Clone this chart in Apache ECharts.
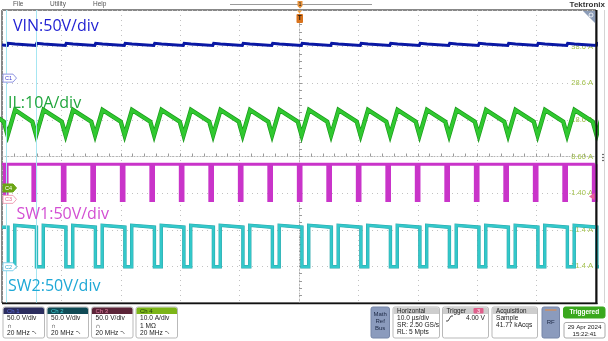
<!DOCTYPE html>
<html>
<head>
<meta charset="utf-8">
<title>Switching waveforms</title>
<script src="https://cdn.jsdelivr.net/npm/echarts/dist/echarts.min.js"></script>
<style>
  html, body { margin: 0; padding: 0; background: #fff; }
  #scope { width: 608px; height: 341px; }
</style>
</head>
<body>
<div id="scope"></div>
<script>
// Time base: 10 µs/div, trigger in the centre of the record
const timeRangeUs = [-50, 50];
// SW1 falling-edge time of every switching cycle (µs)
const sw1FallUs = [-49.6, -44.8, -39.84, -34.88, -29.91, -24.94, -19.98, -15.01, -10.04, -5.08,
                   -0.11, 4.85, 9.82, 14.79, 19.75, 24.72, 29.69, 34.65, 39.62, 44.58, 49.55];
// SW1 node: high / low level (V) and low time (µs)
const sw1LevelsV = [48, -1.5];
const sw1LowUs = 0.45;
// SW2 node: high / low / overshoot (V); fall and rise after SW1 falls (µs)
const sw2LevelsV = [54, 0, 56.5];
const sw2EdgeUs = [0.6, 1.75];
// Inductor current: knee / valley / peak (A) and where they sit after SW1 falls (µs)
const ilLevelsA = [18.1, 14.4, 21.3];
const ilEdgeUs = [-0.1, 0.55, 1.8];
// Input voltage: base / bump top / bump tail / recovery (V) and offsets (µs)
const vinLevelsV = [44.6, 47.5, 46.5, 45.3];
const vinEdgeUs = [0.5, 0.65, 1.8, 2.1];
// Channel 4 read-outs on the right-hand graticule lines
const ampLabels = ['38.6 A', '28.6 A', '18.6 A', '8.60 A', '-1.40 A', '-11.4 A', '-21.4 A'];
// Cursor positions (µs)
const cursorUs = [-49.33, -44.28];

// vertical scale and ground position of each channel, in graticule divisions
const channels = {
  vin: { perDiv: 50, zeroDiv: 2.14 },
  il:  { perDiv: 10, zeroDiv: -0.86 },
  sw1: { perDiv: 50, zeroDiv: -1.17 },
  sw2: { perDiv: 50, zeroDiv: -3.01 }
};
const toDiv = (ch, v) => ch.zeroDiv + v / ch.perDiv;
const period = sw1FallUs[1] - sw1FallUs[0];

function sw1Trace() {
  const [hi, lo] = sw1LevelsV, c = channels.sw1;
  const p = [[timeRangeUs[0], toDiv(c, hi)]];
  sw1FallUs.forEach(f => {
    p.push([f, toDiv(c, hi)], [f, toDiv(c, lo)], [f + sw1LowUs, toDiv(c, lo)], [f + sw1LowUs, toDiv(c, hi)]);
  });
  p.push([timeRangeUs[1], toDiv(c, hi)]);
  return p;
}
function sw2Trace() {
  const [hi, lo, over] = sw2LevelsV, c = channels.sw2;
  const p = [[timeRangeUs[0], toDiv(c, hi)]];
  sw1FallUs.forEach(f => {
    const a = f + sw2EdgeUs[0], b = f + sw2EdgeUs[1];
    p.push([a, toDiv(c, hi)], [a, toDiv(c, lo)], [b, toDiv(c, lo)], [b, toDiv(c, over)], [b + 0.3, toDiv(c, hi)]);
  });
  p.push([timeRangeUs[1] + 1, toDiv(c, hi)]);
  return p;
}
function ilTrace() {
  const [knee, valley, peak] = ilLevelsA, c = channels.il;
  const p = [[sw1FallUs[0] - period + ilEdgeUs[2], toDiv(c, peak)]];
  sw1FallUs.forEach(f => {
    p.push([f + ilEdgeUs[0], toDiv(c, knee)], [f + ilEdgeUs[1], toDiv(c, valley)], [f + ilEdgeUs[2], toDiv(c, peak)]);
  });
  p.push([sw1FallUs[sw1FallUs.length - 1] + period + ilEdgeUs[0], toDiv(c, knee)]);
  return p;
}
function vinTrace() {
  const c = channels.vin;
  const p = [[timeRangeUs[0], toDiv(c, vinLevelsV[3])]];
  sw1FallUs.forEach(f => {
    vinEdgeUs.forEach((dt, i) => p.push([f + dt, toDiv(c, vinLevelsV[i])]));
  });
  p.push([timeRangeUs[1] + 1, toDiv(c, vinLevelsV[0])]);
  return p;
}

function line(name, data, color, width, z) {
  return {
    name, type: 'line', data, showSymbol: false, symbol: 'none', silent: true,
    clip: true, z, lineStyle: { color, width, join: 'miter' }
  };
}

const grid = { left: 2, top: 10, width: 594, height: 293, show: true, borderColor: '#111', borderWidth: 1 };
const dotted = { color: '#c2c2c2', type: [1, 4], width: 1 };

const chart = echarts.init(document.getElementById('scope'), null, { renderer: 'canvas' });

const vinData = vinTrace(), ilData = ilTrace(), sw1Data = sw1Trace(), sw2Data = sw2Trace();

const cursorSeries = line('cursor', [], '#fff', 0, 1);
cursorSeries.markLine = {
  silent: true, symbol: 'none', label: { show: false },
  lineStyle: { color: '#a6e6f2', width: 1, type: 'solid' },
  data: cursorUs.map(t => ({ xAxis: t }))
};

chart.setOption({
  animation: false,
  backgroundColor: '#ffffff',
  grid,
  xAxis: {
    type: 'value', min: timeRangeUs[0], max: timeRangeUs[1], interval: 10,
    axisLine: { onZero: true, lineStyle: { color: '#b5b5b5', type: [1, 2] } },
    axisTick: { show: true, inside: true, length: 3, lineStyle: { color: '#9a9a9a' } },
    minorTick: { show: true, splitNumber: 5, length: 3, lineStyle: { color: '#9a9a9a' } },
    axisLabel: { show: false },
    splitLine: { show: true, lineStyle: dotted }
  },
  yAxis: [{
    type: 'value', min: -4, max: 4, interval: 1,
    axisLine: { onZero: true, lineStyle: { color: '#b5b5b5', type: [1, 2] } },
    axisTick: { show: true, inside: true, length: 3, lineStyle: { color: '#9a9a9a' } },
    minorTick: { show: true, splitNumber: 5, length: 3, lineStyle: { color: '#9a9a9a' } },
    axisLabel: { show: false },
    splitLine: { show: true, lineStyle: dotted }
  }, {
    type: 'value', position: 'right', min: -4, max: 4, interval: 1,
    axisLine: { show: false }, axisTick: { show: false }, splitLine: { show: false },
    axisLabel: {
      inside: true, margin: 3, color: '#a4c24e', fontSize: 7.5,
      fontFamily: 'Liberation Sans',
      formatter: v => (v <= -4 || v >= 4) ? '' : ampLabels[3 - v]
    }
  }],
  series: [
    cursorSeries,
    line('VIN', vinData, '#0a18a4', 3, 3),
    line('IL edge', ilData, '#1c9c1c', 4.4, 3),
    line('IL', ilData, '#30c830', 3, 4),
    line('SW1', sw1Data, '#c934c9', 3, 3),
    line('SW2 edge', sw2Data, '#2aa6aa', 3.4, 3),
    line('SW2', sw2Data, '#33c8ca', 2.4, 4)
  ]
});

// ---- annotations, markers and status panel ----
const F = '"Liberation Sans", Arial, sans-serif';
function txt(text, x, y, size, fill, opts = {}) {
  return {
    type: 'text', x, y, silent: true, z: 20,
    style: {
      text, fill, font: `${opts.weight || 'normal'} ${size}px ${opts.family || F}`,
      align: opts.align || 'left', verticalAlign: 'middle'
    }
  };
}
function rect(x, y, w, h, fill, stroke, r = 2) {
  return { type: 'rect', silent: true, z: 19, shape: { x, y, width: w, height: h, r },
           style: { fill, stroke: stroke || null, lineWidth: 1 } };
}
function poly(points, fill, stroke) {
  return { type: 'polygon', silent: true, z: 21, shape: { points },
           style: { fill, stroke: stroke || null, lineWidth: 1 } };
}
function seg(x1, y1, x2, y2, color, w = 1) {
  return { type: 'line', silent: true, z: 21, shape: { x1, y1, x2, y2 },
           style: { stroke: color, lineWidth: w } };
}

const yPix = d => chart.convertToPixel({ xAxisIndex: 0, yAxisIndex: 0 }, [0, d])[1];
const g = [];

// channel titles
const labelFont = '"Open Sans", sans-serif';
g.push(txt('VIN:50V/div', 13, 26, 16, '#1e1ed2', { family: labelFont }));
g.push(txt('IL:10A/div', 8, 103.5, 16, '#22a63e', { family: labelFont }));
g.push(txt('SW1:50V/div', 16.5, 214.5, 16, '#d34fd3', { family: labelFont }));
g.push(txt('SW2:50V/div', 8, 286.5, 16, '#1ea8d6', { family: labelFont }));

// ground reference flags
const flags = [
  ['C1', channels.vin.zeroDiv, '#fff', '#9096e2', '#3b3bd0'],
  ['C4', channels.il.zeroDiv, '#6aa514', '#6aa514', '#ffffff'],
  ['C3', channels.sw1.zeroDiv, '#fff', '#efa2b6', '#e06a8c'],
  ['C2', channels.sw2.zeroDiv, '#fff', '#80d0ea', '#2aa8d0']
];
flags.forEach(([name, d, fill, stroke, tcol]) => {
  const y = yPix(d);
  g.push(poly([[3, y - 4], [13, y - 4], [16.5, y], [13, y + 4], [3, y + 4]], fill, stroke));
  g.push(Object.assign(txt(name, 5, y + 0.3, 5.5, tcol), { z: 22 }));
});

// trigger level on channel 3 (4.00 V)
const ty = yPix(channels.sw1.zeroDiv + 4 / channels.sw1.perDiv);
g.push(poly([[589, ty], [594.5, ty - 3.5], [594.5, ty + 3.5]], '#e8609a'));

// trigger position marker
g.push(poly([[297, 10.5], [302, 10.5], [299.5, 13.5]], '#f0a040'));
g.push(rect(296.5, 14, 6.5, 9, '#d9731c', null, 1));
g.push(Object.assign(txt('T', 299.8, 18.7, 6.5, '#1a1a1a', { align: 'center', weight: 'bold' }), { z: 22 }));

// zoom corner
g.push(poly([[583, 11], [595.5, 11], [595.5, 23.5]], '#8d9db8'));
g.push({ type: 'circle', silent: true, z: 22, shape: { cx: 591, cy: 15, r: 2 },
         style: { fill: null, stroke: '#fff', lineWidth: 0.8 } });
g.push(seg(589.6, 16.4, 587.8, 18.2, '#fff', 0.8));

// heavier right and bottom frame edges
g.push(seg(596.5, 10, 596.5, 304, '#111', 2));
g.push(seg(2, 303.5, 597.5, 303.5, '#111', 1.5));
g.push(seg(604.5, 10, 604.5, 303, '#d4d4d4', 1));
[154.5, 157.5, 160.5].forEach(y => g.push({ type: 'circle', silent: true, z: 21,
  shape: { cx: 603, cy: y, r: 0.8 }, style: { fill: '#333' } }));

// menu bar
g.push(txt('File', 13, 4.5, 6.5, '#555'));
g.push(txt('Utility', 50, 4.5, 6.5, '#555'));
g.push(txt('Help', 93, 4.5, 6.5, '#555'));
g.push(seg(230, 4.5, 372, 4.5, '#9a9a9a', 1));
g.push(poly([[297.5, 1], [302.5, 1], [302.5, 6], [300, 8.5], [297.5, 6]], '#e8923a'));
g.push(Object.assign(txt('1', 300, 4, 5.5, '#222', { align: 'center' }), { z: 22 }));
g.push(txt('Tektronix', 605, 4.5, 8, '#333', { align: 'right', weight: 'bold' }));

// channel badges
const badges = [
  ['Ch 1', '#2b2d5e', '#5a68d8', ['50.0 V/div', '∩', '20 MHz']],
  ['Ch 2', '#0f4a55', '#3fd0d6', ['50.0 V/div', '∩', '20 MHz']],
  ['Ch 3', '#5c2438', '#e07fa2', ['50.0 V/div', '∩', '20 MHz']],
  ['Ch 4', '#7cb518', '#20400a', ['10.0 A/div', '1 MΩ', '20 MHz']]
];
[3, 47, 91.5, 136].forEach((x, i) => {
  const [name, hdr, tc, rows] = badges[i];
  g.push(rect(x, 307, 41.5, 31, '#fff', '#b9b9b9'));
  g.push(rect(x + 0.5, 307.5, 40.5, 6.5, hdr, null, [2, 2, 0, 0]));
  g.push(Object.assign(txt(name, x + 4, 311, 6, tc), { z: 22 }));
  rows.forEach((r, j) => g.push(Object.assign(txt(r, x + 4, 318.5 + j * 7.2, 6.6, '#222'), { z: 22 })));
  g.push(seg(x + 29, 331.5, x + 31, 331.5, '#555', 0.7));
  g.push(seg(x + 31, 331.5, x + 33, 334, '#555', 0.7));
});

// right-hand status panel
g.push(rect(371, 307, 18.5, 31, '#8b9bbd', '#7686a8'));
['Math', 'Ref', 'Bus'].forEach((s, j) => g.push(Object.assign(txt(s, 380.2, 314.5 + j * 7, 6, '#1c2844', { align: 'center' }), { z: 22 })));

function panel(x, w, title, rows) {
  g.push(rect(x, 307, w, 31, '#fff', '#b9b9b9'));
  g.push(rect(x + 0.5, 307.5, w - 1, 6.5, '#cdcdcd', null, [2, 2, 0, 0]));
  g.push(Object.assign(txt(title, x + 4, 311, 6.3, '#222'), { z: 22 }));
  rows.forEach((r, j) => g.push(Object.assign(txt(r, x + 4, 318.5 + j * 7, 6.6, '#222'), { z: 22 })));
}
panel(393, 46.5, 'Horizontal', ['10.0 µs/div', 'SR: 2.50 GS/s', 'RL: 5 Mpts']);
panel(442.5, 46, 'Trigger', []);
g.push(rect(473.5, 308, 10, 5.5, '#e0608c', null, 1));
g.push(Object.assign(txt('3', 478.5, 311, 5.5, '#fff', { align: 'center' }), { z: 23 }));
g.push(seg(446, 321, 448, 321, '#222', 0.8));
g.push(seg(448, 321, 451, 316, '#222', 0.8));
g.push(seg(451, 316, 453, 316, '#222', 0.8));
g.push(Object.assign(txt('4.00 V', 485, 318.5, 6.6, '#222', { align: 'right' }), { z: 22 }));
panel(492, 45.5, 'Acquisition', ['Sample', '41.77 kAcqs']);

g.push(rect(542, 307, 17.5, 31, '#8b9bbd', '#7686a8'));
g.push(seg(545, 310, 556.5, 310, '#ea8a3c', 1));
g.push(Object.assign(txt('RF', 550.7, 322, 6, '#1c2844', { align: 'center' }), { z: 22 }));

g.push(rect(563.5, 307, 41.5, 11, '#3aa81e', '#3aa81e'));
g.push(Object.assign(txt('Triggered', 584.3, 312.5, 6.5, '#fff', { align: 'center', weight: 'bold' }), { z: 22 }));
g.push(rect(564, 322.5, 41, 15.5, '#fff', '#aaaaaa'));
g.push(Object.assign(txt('29 Apr 2024', 584.5, 327, 6.2, '#222', { align: 'center' }), { z: 22 }));
g.push(Object.assign(txt('15:22:41', 584.5, 334, 6.2, '#222', { align: 'center' }), { z: 22 }));

chart.setOption({ graphic: g });
</script>
</body>
</html>
